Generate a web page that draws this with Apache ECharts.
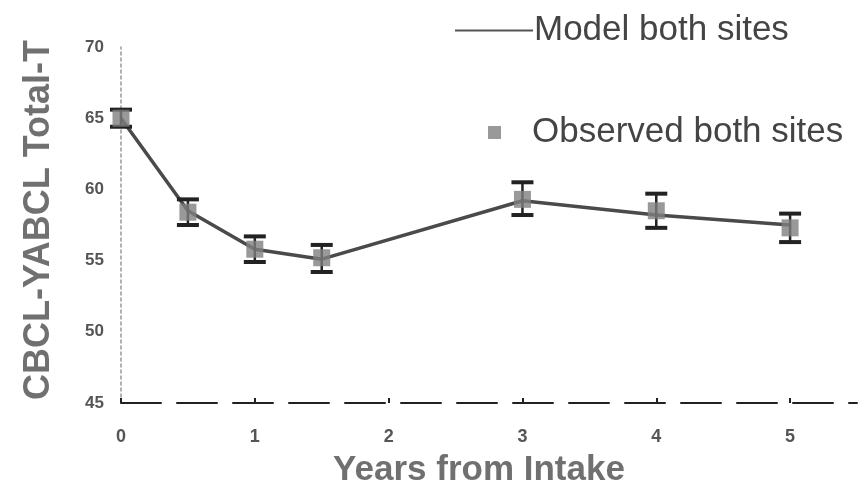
<!DOCTYPE html>
<html><head><meta charset="utf-8">
<script src="https://cdn.jsdelivr.net/npm/echarts@6/dist/echarts.min.js"></script>
<style>html,body{margin:0;padding:0;background:#fff}#c{width:863px;height:499px}</style>
</head><body><div id="c"></div>
<script>
var years = [0, 0.5, 1, 1.5, 3, 4, 5];
var observed = [65.0, 58.4, 55.8, 55.2, 59.3, 58.5, 57.3];
var errLow = [64.4, 57.5, 54.9, 54.2, 58.2, 57.3, 56.3];
var errHigh = [65.6, 59.3, 56.7, 56.1, 60.5, 59.7, 58.3];
var modelYears = [0, 0.5, 1, 1.5, 3, 4, 5];
var modelValues = [65.0, 58.5, 55.8, 55.1, 59.2, 58.2, 57.5];
var xTicks = [0, 1, 2, 3, 4, 5];
var yTicks = [45, 50, 55, 60, 65, 70];

var chart = echarts.init(document.getElementById('c'));
var font = 'Liberation Sans';
chart.setOption({
  animation: false,
  grid: {left: 121, right: 6, top: 47, bottom: 96},
  legend: [
    {data: [{name: 'Model both sites', icon: 'rect', itemStyle: {color: '#555'}}], left: 450, top: 8, itemWidth: 78, itemHeight: 2, itemGap: 4,
     textStyle: {fontFamily: font, fontSize: 35, color: '#444', padding: [0, 0, 0, -4]}},
    {data: [{name: 'Observed both sites', icon: 'rect'}], left: 483, top: 110, itemWidth: 13, itemHeight: 13, itemGap: 4,
     textStyle: {fontFamily: font, fontSize: 35, color: '#444', padding: [0, 0, 0, 26]}}
  ],
  xAxis: {
    type: 'value', min: 0, max: 5.5, interval: 1,
    name: 'Years from Intake', nameLocation: 'middle', nameGap: 50,
    nameTextStyle: {fontFamily: font, fontSize: 35, fontWeight: 'bold', color: '#707070', padding: [0, 20, 0, 0]},
    axisLine: {lineStyle: {color: '#222', width: 2, type: [40, 16]}},
    axisTick: {show: true, length: 5, inside: true, lineStyle: {color: '#222', width: 2}},
    splitLine: {show: false},
    axisLabel: {fontFamily: font, fontSize: 18, fontWeight: 'bold', color: '#555', margin: 25, showMaxLabel: false,
      formatter: function (v) { return xTicks.indexOf(v) >= 0 ? String(v) : ''; }}
  },
  yAxis: {
    type: 'value', min: 45, max: 70, interval: 5,
    name: 'CBCL-YABCL Total-T', nameLocation: 'middle', nameGap: 64,
    nameTextStyle: {fontFamily: font, fontSize: 36, fontWeight: 'bold', color: '#707070', padding: [0, 0, 0, 10]},
    axisLine: {show: true, lineStyle: {color: '#999', width: 1.5, type: [3, 3]}},
    axisTick: {show: false},
    splitLine: {show: false},
    axisLabel: {fontFamily: font, fontSize: 17, fontWeight: 'bold', color: '#555', margin: 17,
      formatter: function (v) { return yTicks.indexOf(v) >= 0 ? String(v) : ''; }}
  },
  series: [
    {name: 'Model both sites', type: 'line', data: modelYears.map(function (x, i) { return [x, modelValues[i]]; }),
     showSymbol: false, symbol: 'none', lineStyle: {color: '#4a4a4a', width: 3.5}, itemStyle: {color: '#555'}, z: 2},
    {name: 'errorbars', type: 'custom', z: 3,
     data: years.map(function (x, i) { return [x, errLow[i], errHigh[i]]; }),
     renderItem: function (params, api) {
       var lo = api.coord([api.value(0), api.value(1)]);
       var hi = api.coord([api.value(0), api.value(2)]);
       var hw = 11;
       var st = {stroke: '#222', lineWidth: 2.5};
       return {type: 'group', children: [
         {type: 'line', shape: {x1: lo[0], y1: lo[1], x2: hi[0], y2: hi[1]}, style: st},
         {type: 'line', shape: {x1: lo[0] - hw, y1: lo[1], x2: lo[0] + hw, y2: lo[1]}, style: {stroke: '#222', lineWidth: 4}},
         {type: 'line', shape: {x1: hi[0] - hw, y1: hi[1], x2: hi[0] + hw, y2: hi[1]}, style: {stroke: '#222', lineWidth: 4}}
       ]};
     }},
    {name: 'Observed both sites', type: 'scatter', data: years.map(function (x, i) { return [x, observed[i]]; }),
     symbol: 'rect', symbolSize: 17, itemStyle: {color: '#7f7f7f'}, z: 4}
  ]
});
</script></body></html>
